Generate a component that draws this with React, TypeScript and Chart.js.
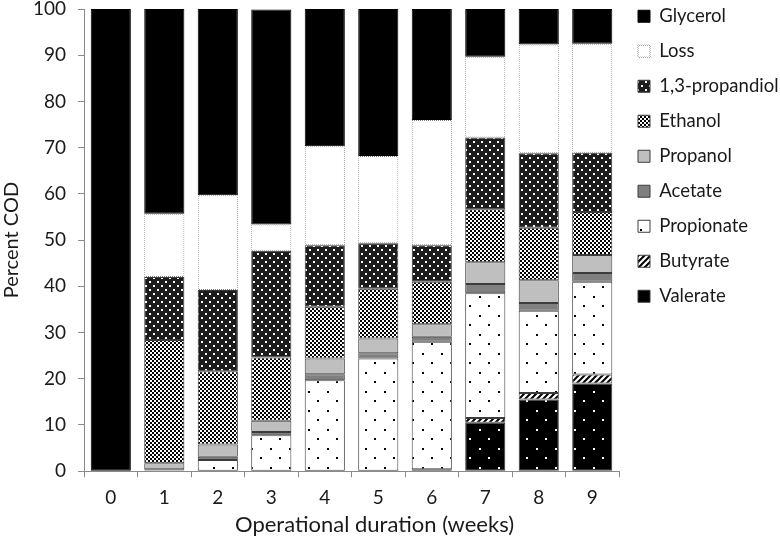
import React, { useEffect, useRef } from 'react';
import { Chart, registerables } from 'chart.js';

Chart.register(...registerables);

const weeks = ['0', '1', '2', '3', '4', '5', '6', '7', '8', '9'];
const valerate = [0, 0, 0, 0, 0, 0, 0.4, 10.5, 15.5, 19.0];
const butyrate = [0, 0, 0, 0, 0, 0, 0, 1.0, 1.4, 1.9];
const propionate = [0, 0.2, 2.4, 7.8, 19.7, 24.4, 27.6, 27.0, 17.8, 20.1];
const acetate = [0, 0.2, 0.7, 0.7, 1.3, 1.1, 1.1, 2.0, 1.7, 1.9];
const propanol = [0, 1.3, 2.7, 2.4, 3.4, 3.2, 2.7, 4.7, 4.9, 3.9];
const ethanol = [0, 26.7, 15.8, 13.7, 11.2, 10.8, 9.2, 11.5, 11.4, 9.3];
const propandiol = [0, 13.6, 17.6, 23.1, 13.3, 9.8, 7.9, 15.5, 16.1, 12.8];
const loss = [0, 13.7, 20.5, 5.7, 21.4, 18.9, 27.1, 17.5, 23.5, 23.6];
const glycerol = [100, 44.3, 40.3, 46.5, 29.7, 31.8, 24.0, 10.3, 7.7, 7.5];
const yTicks = [0, 10, 20, 30, 40, 50, 60, 70, 80, 90, 100];
const xTitle = 'Operational duration (weeks)';
const yTitle = 'Percent COD';

const FONT = 'Lato, "Open Sans", sans-serif';
const TEXT = '#1a1a1a';
const AXIS = '#8a8a8a';
const SHIFT = 12; // canvas is raised by this many px so the plot top can sit near the page top

function makePattern(w: number, h: number, bg: string, draw: (c: CanvasRenderingContext2D) => void) {
  const cv = document.createElement('canvas');
  cv.width = w;
  cv.height = h;
  const c = cv.getContext('2d')!;
  c.fillStyle = bg;
  c.fillRect(0, 0, w, h);
  draw(c);
  const tmp = document.createElement('canvas').getContext('2d')!;
  return tmp.createPattern(cv, 'repeat')!;
}

export default function App() {
  const ref = useRef<HTMLCanvasElement | null>(null);

  useEffect(() => {
    if (!ref.current) return;

    const pPropandiol = makePattern(8, 8, '#1c1c1c', (c) => {
      c.fillStyle = '#ffffff';
      c.fillRect(1, 1, 2, 2);
      c.fillRect(5, 5, 2, 2);
    });
    const pEthanol = makePattern(4, 4, '#ffffff', (c) => {
      c.fillStyle = '#000000';
      c.fillRect(0, 0, 2, 2);
      c.fillRect(2, 2, 2, 2);
    });
    const pPropionate = makePattern(19, 19, '#ffffff', (c) => {
      c.fillStyle = '#000000';
      c.fillRect(4, 4, 2, 2);
      c.fillRect(13, 13, 2, 2);
    });
    const pValerate = makePattern(19, 19, '#000000', (c) => {
      c.fillStyle = '#ffffff';
      c.fillRect(4, 4, 2, 2);
      c.fillRect(13, 13, 2, 2);
    });
    const pButyrate = makePattern(6, 6, '#ffffff', (c) => {
      c.strokeStyle = '#000000';
      c.lineWidth = 2;
      c.beginPath();
      c.moveTo(-1, 7);
      c.lineTo(7, -1);
      c.moveTo(-4, 4);
      c.lineTo(4, -4);
      c.moveTo(2, 10);
      c.lineTo(10, 2);
      c.stroke();
    });
    const pLossBorder = makePattern(2, 2, '#ffffff', (c) => {
      c.fillStyle = '#808080';
      c.fillRect(0, 0, 1, 1);
      c.fillRect(1, 1, 1, 1);
    });

    const edge = '#3c3c3c';
    const mk = (label: string, data: number[], bg: any, border: any) => ({
      label,
      data,
      backgroundColor: bg,
      borderColor: border,
      borderWidth: 1,
      borderSkipped: false as const,
      categoryPercentage: 1,
      barPercentage: 0.75,
    });

    const extras = {
      id: 'extras',
      afterLayout(chart: any) {
        if (chart.legend) {
          chart.legend.left = chart.chartArea.right + 2.5;
          chart.legend.top = 2.5;
        }
      },
      afterDraw(chart: any) {
        const { ctx, chartArea } = chart;
        ctx.save();
        ctx.fillStyle = TEXT;
        ctx.font = `22px ${FONT}`;
        ctx.textAlign = 'center';
        ctx.textBaseline = 'middle';
        ctx.fillText(xTitle, (chartArea.left + chartArea.right) / 2 + 23, chartArea.bottom + 54);
        ctx.restore();
      },
    };

    const chart = new Chart(ref.current, {
      type: 'bar',
      data: {
        labels: weeks,
        datasets: [
          mk('Valerate', valerate, pValerate, edge),
          mk('Butyrate', butyrate, pButyrate, edge),
          mk('Propionate', propionate, pPropionate, edge),
          mk('Acetate', acetate, '#808080', edge),
          mk('Propanol', propanol, '#bfbfbf', edge),
          mk('Ethanol', ethanol, pEthanol, edge),
          mk('1,3-propandiol', propandiol, pPropandiol, edge),
          mk('Loss', loss, '#ffffff', pLossBorder),
          mk('Glycerol', glycerol, '#000000', '#000000'),
        ],
      },
      options: {
        animation: false,
        responsive: false,
        maintainAspectRatio: false,
        layout: { padding: { left: 0, right: 0, top: 0, bottom: 28 } },
        plugins: {
          tooltip: { enabled: false },
          legend: {
            position: 'right',
            align: 'start',
            reverse: true,
            maxWidth: 161,
            labels: {
              boxWidth: 12,
              boxHeight: 12,
              padding: 16.5,
              color: TEXT,
              font: { family: FONT, size: 18.5 },
            },
          },
        },
        scales: {
          x: {
            stacked: true,
            grid: { drawOnChartArea: false, drawTicks: true, tickLength: 6, color: AXIS, offset: true },
            border: { display: true, color: AXIS, width: 1 },
            ticks: { color: TEXT, padding: 9, font: { family: FONT, size: 19 } },
            title: { display: false, text: xTitle },
          },
          y: {
            stacked: true,
            min: 0,
            max: 100,
            afterBuildTicks: (axis: any) => {
              axis.ticks = yTicks.map((v) => ({ value: v }));
            },
            grid: { drawOnChartArea: false, drawTicks: true, tickLength: 6, color: AXIS },
            border: { display: true, color: AXIS, width: 1 },
            ticks: { color: TEXT, padding: 12, font: { family: FONT, size: 19, lineHeight: 0.95 } },
            title: {
              display: true,
              text: yTitle,
              color: TEXT,
              font: { family: FONT, size: 20, lineHeight: 0.6 },
              padding: { top: 6, bottom: 3 },
            },
          },
        },
      },
      plugins: [extras],
    });

    return () => chart.destroy();
  }, []);

  return (
    <div style={{ position: 'absolute', left: 0, top: -SHIFT, width: 780, height: 546 + SHIFT, background: '#ffffff' }}>
      <canvas ref={ref} width={780} height={546 + SHIFT} style={{ display: 'block', width: 780, height: 546 + SHIFT }} />
    </div>
  );
}
